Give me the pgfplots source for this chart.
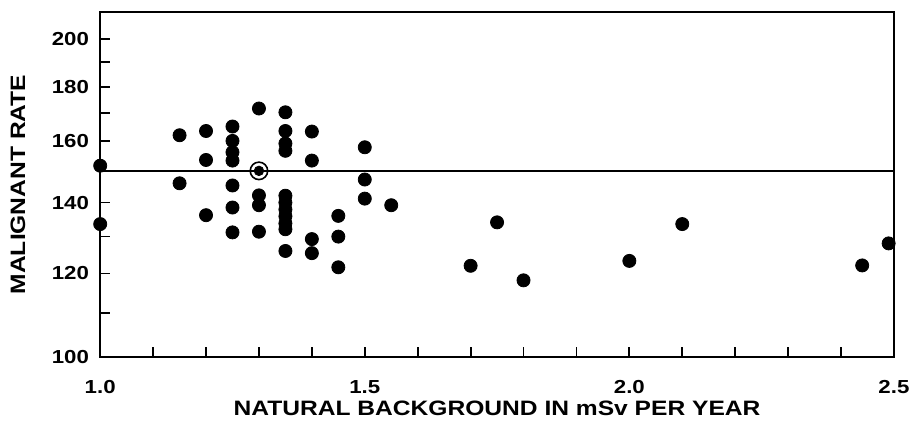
\documentclass[border=0pt]{standalone}
\usepackage{fontspec}
\setmainfont{Liberation Sans}[FakeStretch=1.18]
\usepackage{pgfplots}
\pgfplotsset{compat=1.18}

\begin{document}
\begin{tikzpicture}
\begin{axis}[
    scale only axis,
    width=400pt, height=174pt,
    xmin=1, xmax=2.5,
    ymode=log, log basis y=10,
    ymin=100, ymax=212,
    xtick={1,1.5,2,2.5},
    xticklabels={1.0,1.5,2.0,2.5},
    minor xtick={1.1,1.2,1.3,1.4,1.6,1.7,1.8,1.9,2.1,2.2,2.3,2.4},
    ytick={100,120,140,160,180,200},
    yticklabels={100,120,140,160,180,200},
    minor ytick={110,130,150,170,190},
    tick align=inside,
    tick pos=left,
    major tick length=5pt,
    minor tick length=5pt,
    every tick/.style={black, line width=0.9pt},
    axis line style={line width=1pt},
    /pgf/number format/assume math mode=true,
    ticklabel style={font=\fontsize{9.5}{11}\selectfont\bfseries},
    xticklabel style={anchor=center, yshift=-15pt},
    yticklabel style={anchor=east, inner sep=0pt, xshift=-5.5pt},
    xlabel={NATURAL BACKGROUND IN mSv PER YEAR},
    ylabel={MALIGNANT RATE},
    every axis x label/.style={at={(rel axis cs:0.5,0)}, yshift=-26pt, anchor=center,
        font=\fontsize{10.5}{12}\selectfont\bfseries},
    every axis y label/.style={at={(rel axis cs:0,0.5)}, xshift=-41.5pt, rotate=90, anchor=center,
        font=\fontsize{10.5}{12}\selectfont\bfseries},
    clip=false,
]
\addplot[black, line width=1pt] coordinates {(1,150) (2.5,150)};

\addplot[only marks, mark=*, mark size=3.3pt, black] table {
x y
1.0 151.7
1.0 133.6
1.15 162.1
1.15 146.0
1.2 163.6
1.2 153.6
1.2 136.2
1.25 165.2
1.25 160.1
1.25 156.2
1.25 153.4
1.25 145.3
1.25 138.5
1.25 131.2
1.3 171.8
1.3 142.2
1.3 139.2
1.3 131.4
1.35 170.4
1.35 163.6
1.35 159.2
1.35 156.7
1.35 142.1
1.35 140.0
1.35 137.9
1.35 135.9
1.35 133.8
1.35 132.1
1.35 126.0
1.4 163.4
1.4 153.4
1.4 129.3
1.4 125.4
1.45 136.0
1.45 130.0
1.45 121.6
1.5 157.9
1.5 147.2
1.5 141.2
1.55 139.2
1.7 122.0
1.75 134.1
1.8 118.2
2.0 123.3
2.1 133.6
2.44 122.1
2.49 128.1
};

% circled reference point
\addplot[only marks, mark=o, mark size=4.4pt, black, mark options={line width=0.8pt}] coordinates {(1.3,150)};
\addplot[only marks, mark=*, mark size=2.4pt, black] coordinates {(1.3,150)};
\end{axis}
\path ([yshift=6pt]current axis.north);
\path ([xshift=7.5pt]current axis.east);
\path ([xshift=-50.5pt]current axis.west);
\end{tikzpicture}
\end{document}
